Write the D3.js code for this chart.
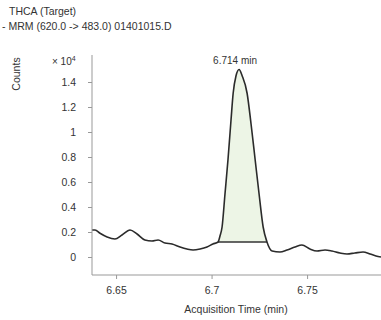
<!DOCTYPE html>
<html>
<head>
<meta charset="utf-8">
<script src="https://cdn.jsdelivr.net/npm/d3@7"></script>
<style>
  body { margin: 0; background: #fff; }
  svg text { font-family: "Liberation Sans Narrow", "Arial Narrow", "Liberation Sans", sans-serif; fill: #333; }
</style>
</head>
<body>
<div id="chart"></div>
<script>
// chromatogram trace (time in min, counts x10^4)
const times = [6.6374, 6.639, 6.6416, 6.6453, 6.6494, 6.6531, 6.6573, 6.661, 6.6651, 6.6688,
  6.672, 6.6756, 6.6793, 6.6835, 6.6871, 6.6903, 6.694, 6.6976, 6.7007, 6.7034,
  6.7044, 6.7055, 6.707, 6.7086, 6.7102, 6.7113, 6.7128, 6.7144, 6.716, 6.7186,
  6.7207, 6.7228, 6.7249, 6.727, 6.729, 6.7317, 6.7358, 6.7395, 6.7437, 6.7473,
  6.7515, 6.7552, 6.7594, 6.763, 6.7672, 6.7709, 6.775, 6.7793, 6.783, 6.7861, 6.7887];
const counts = [0.216, 0.216, 0.19, 0.16, 0.144, 0.176, 0.216, 0.184, 0.136, 0.128,
  0.136, 0.112, 0.104, 0.08, 0.064, 0.056, 0.064, 0.08, 0.104, 0.12,
  0.168, 0.24, 0.5, 0.78, 1.1, 1.31, 1.45, 1.5, 1.45, 1.31,
  1.06, 0.78, 0.5, 0.24, 0.12, 0.048, 0.04, 0.056, 0.08, 0.096,
  0.064, 0.048, 0.056, 0.048, 0.032, 0.024, 0.032, 0.04, 0.024, 0.008, 0.0];

// integrated peak: start / end time and baseline level
const peakStart = 6.7034;
const peakEnd = 6.729;
const peakBase = 0.12;
const peakLabel = '6.714 min';
const peakTime = 6.7144;
const peakHeight = 1.5;

const xTicks = [6.65, 6.7, 6.75];
const yTicks = [0, 0.2, 0.4, 0.6, 0.8, 1, 1.2, 1.4];

const titleLines = ['THCA (Target)', '- MRM (620.0 -> 483.0) 01401015.D'];

const W = 381, H = 320;
const margin = { top: 55, right: 0, bottom: 45, left: 92 };
const width = W - margin.left - margin.right;
const height = H - margin.top - margin.bottom;

const svg = d3.select('#chart').append('svg')
  .attr('width', W)
  .attr('height', H);

// titulos
svg.selectAll('text.title')
  .data(titleLines)
  .enter()
  .append('text')
  .attr('class', 'title')
  .attr('x', (d, i) => i === 0 ? 9 : 2)
  .attr('y', (d, i) => 15 + i * 15)
  .style('font-size', '10.5px')
  .text(d => d);

const g = svg.append('g')
  .attr('transform', `translate(${margin.left},${margin.top})`);

const x = d3.scaleLinear()
  .domain([6.6374, 6.7887])
  .range([0, width]);

const y = d3.scaleLinear()
  .domain([-0.144, 1.616])
  .range([height, 0]);

const data = times.map((t, i) => ({ t, c: counts[i] }));

// area do pico
const peakData = data.filter(d => d.t >= peakStart && d.t <= peakEnd);
g.append('path')
  .datum(peakData)
  .attr('fill', '#edf5e6')
  .attr('d', d3.area().x(d => x(d.t)).y0(y(peakBase)).y1(d => y(d.c)));

// linha de base integrada
g.append('line')
  .attr('x1', x(peakStart)).attr('x2', x(peakEnd))
  .attr('y1', y(peakBase)).attr('y2', y(peakBase))
  .attr('stroke', '#333').attr('stroke-width', 1.3);

// traço
g.append('path')
  .datum(data)
  .attr('fill', 'none')
  .attr('stroke', '#2b2b2b')
  .attr('stroke-width', 1.6)
  .attr('stroke-linejoin', 'round')
  .attr('d', d3.line().x(d => x(d.t)).y(d => y(d.c)).curve(d3.curveMonotoneX));

// eixo Y
const yAxisG = g.append('g')
  .call(d3.axisLeft(y).tickValues(yTicks).tickSize(4).tickPadding(12).tickFormat(d3.format('')));
yAxisG.select('.domain').attr('stroke', '#999').attr('d', `M0,0V${height}`);
yAxisG.selectAll('line').attr('stroke', '#999');
yAxisG.selectAll('text').style('font-size', '10.5px');

// eixo X
const xAxisG = g.append('g')
  .attr('transform', `translate(0,${height})`)
  .call(d3.axisBottom(x).tickValues(xTicks).tickSize(4).tickPadding(8).tickFormat(d3.format('')));
xAxisG.select('.domain').attr('stroke', '#999').attr('d', `M0,0H${width}`);
xAxisG.selectAll('line').attr('stroke', '#999');
xAxisG.selectAll('text').style('font-size', '10.5px');

// rotulos
svg.append('text')
  .attr('x', 52).attr('y', 65)
  .style('font-size', '10px')
  .html('\u00d7 10<tspan dy="-4" font-size="7px">4</tspan>');

svg.append('text')
  .attr('transform', 'translate(20,74) rotate(-90)')
  .attr('text-anchor', 'middle')
  .style('font-size', '10.5px')
  .text('Counts');

svg.append('text')
  .attr('x', 236).attr('y', 313)
  .attr('text-anchor', 'middle')
  .style('font-size', '10.5px')
  .text('Acquisition Time (min)');

g.append('text')
  .attr('x', x(peakTime) - 4)
  .attr('y', y(peakHeight) - 6)
  .attr('text-anchor', 'middle')
  .style('font-size', '10px')
  .text(peakLabel);
</script>
</body>
</html>
